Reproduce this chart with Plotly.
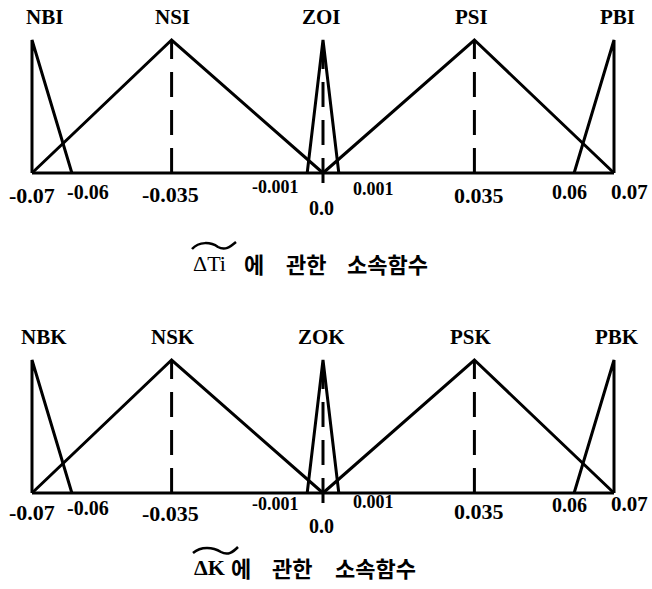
import numpy as np
import plotly.graph_objects as go

# ---------------- data ----------------
NB_X = [-0.07, -0.07, -0.06]
NS_X = [-0.07, -0.035, 0.0]
ZO_X = [-0.001, 0.0, 0.001]
PS_X = [0.0, 0.035, 0.07]
PB_X = [0.06, 0.07, 0.07]
MF_Y = [0.0, 1.0, 0.0]
UNIVERSE = [-0.07, 0.07]
SET_PEAKS = [-0.07, -0.035, 0.0, 0.035, 0.07]
DASHED_CENTERS = [-0.035, 0.0, 0.035]
TICK_VALUES = [-0.07, -0.06, -0.035, -0.001, 0.0, 0.001, 0.035, 0.06, 0.07]
TICK_LABELS = ["-0.07", "-0.06", "-0.035", "-0.001", "0.0", "0.001", "0.035", "0.06", "0.07"]
TOP_SET_NAMES = ["NBI", "NSI", "ZOI", "PSI", "PBI"]
BOTTOM_SET_NAMES = ["NBK", "NSK", "ZOK", "PSK", "PBK"]
TOP_VARIABLE = "ΔTi"
BOTTOM_VARIABLE = "ΔK"
CAPTION_WORDS = ["에", "관한", "소속함수"]

# ---------------- layout helpers ----------------
W, H = 652, 589
# schematic axis: the tiny zero band is drawn enlarged (broken-scale style)
ZERO_BAND = 0.001
ZERO_BAND_DISPLAY = 0.0038


def warp(v):
    return np.interp(v, [-0.07, -ZERO_BAND, ZERO_BAND, 0.07],
                     [-0.07, -ZERO_BAND_DISPLAY, ZERO_BAND_DISPLAY, 0.07])


_s = 0.14 / (614 - 32)
X_RANGE = [-0.07 - 32 * _s, 0.07 + (W - 614) * _s]
Y_RANGE = [-0.15, 1.1]


def py(p):
    return 1 - p / H


def px(p):
    return p / W


def ydomain(base_px, peak_px):
    unit = base_px - peak_px
    bottom_px = base_px - Y_RANGE[0] * unit
    top_px = peak_px - (Y_RANGE[1] - 1) * unit
    return [py(bottom_px), py(top_px)]


LINE = dict(color="black", width=3)
SERIF = "Liberation Serif"
CJK = "Noto Sans CJK KR"

panels = [
    dict(names=TOP_SET_NAMES, var=TOP_VARIABLE, base=173, peak=40, label_y=17,
         tick_dy=[22, 19, 21, 14, 35, 16, 22, 19, 19], caption_y=263,
         caption_x=[210, 254, 306, 387], var_bold=False,
         tilde=[(192, 249), (199, 241), (211, 242), (218, 247), (225, 251), (230, 247), (236, 242)]),
    dict(names=BOTTOM_SET_NAMES, var=BOTTOM_VARIABLE, base=493, peak=360, label_y=337,
         tick_dy=[19, 15, 20, 11, 33, 9, 18, 12, 11], caption_y=567,
         caption_x=[210, 241, 292, 375], var_bold=True,
         tilde=[(193, 553), (201, 546), (213, 547), (221, 552), (228, 556), (233, 552), (238, 547)]),
]

LABEL_XSHIFT = [12, 1, -2, -3, 3]
TICK_XSHIFT = [0, 16, -1, -32, -2, 35, 5, -5, 15]
TICK_SIZE = [22, 20, 22, 18, 20, 18, 22, 20, 21]

fig = go.Figure()
annotations = []
shapes = []

for i, p in enumerate(panels):
    xa = "x" if i == 0 else "x2"
    ya = "y" if i == 0 else "y2"
    # baseline (universe of discourse)
    fig.add_trace(go.Scatter(x=warp(UNIVERSE), y=[0, 0], mode="lines", line=LINE,
                             xaxis=xa, yaxis=ya, showlegend=False, hoverinfo="skip"))
    # membership functions
    for name, xs in zip(p["names"], [NB_X, NS_X, ZO_X, PS_X, PB_X]):
        fig.add_trace(go.Scatter(x=warp(xs), y=MF_Y, mode="lines", line=LINE, name=name,
                                 xaxis=xa, yaxis=ya, showlegend=False))
    # dashed centre lines
    for c in DASHED_CENTERS:
        y0 = -0.075 if c == 0.0 else 0.0
        fig.add_trace(go.Scatter(x=warp([c, c]), y=[y0, 1.0], mode="lines",
                                 line=dict(color="black", width=3, dash="25px,13px"),
                                 xaxis=xa, yaxis=ya, showlegend=False, hoverinfo="skip"))
    # set names
    for name, pk, xs in zip(p["names"], SET_PEAKS, LABEL_XSHIFT):
        annotations.append(dict(x=float(warp(pk)), y=py(p["label_y"]), xref=xa, yref="paper",
                                text=f"<b>{name}</b>", showarrow=False, xshift=xs,
                                xanchor="center", yanchor="middle",
                                font=dict(family=SERIF, size=21, color="black")))
    # tick labels
    for v, lab, dy, xs, sz in zip(TICK_VALUES, TICK_LABELS, p["tick_dy"], TICK_XSHIFT, TICK_SIZE):
        annotations.append(dict(x=float(warp(v)), y=py(p["base"] + dy), xref=xa, yref="paper",
                                text=f"<b>{lab}</b>", showarrow=False, xshift=xs,
                                xanchor="center", yanchor="middle",
                                font=dict(family=SERIF, size=sz, color="black")))
    # caption
    var_txt = f"<b>{p['var']}</b>" if p["var_bold"] else p["var"]
    annotations.append(dict(x=px(p["caption_x"][0]), y=py(p["caption_y"]), xref="paper", yref="paper",
                            text=var_txt, showarrow=False, xanchor="center", yanchor="middle",
                            font=dict(family=SERIF, size=22, color="black")))
    for word, cx in zip(CAPTION_WORDS, p["caption_x"][1:]):
        annotations.append(dict(x=px(cx), y=py(p["caption_y"]), xref="paper", yref="paper",
                                text=f"<b>{word}</b>", showarrow=False, xanchor="center",
                                yanchor="middle",
                                font=dict(family=CJK, size=22, color="black")))
    # tilde over the variable name
    pts = p["tilde"]
    path = "M {},{} C {},{} {},{} {},{} C {},{} {},{} {},{}".format(
        px(pts[0][0]), py(pts[0][1]), px(pts[1][0]), py(pts[1][1]), px(pts[2][0]), py(pts[2][1]),
        px(pts[3][0]), py(pts[3][1]), px(pts[4][0]), py(pts[4][1]), px(pts[5][0]), py(pts[5][1]),
        px(pts[6][0]), py(pts[6][1]))
    shapes.append(dict(type="path", path=path, xref="paper", yref="paper",
                       line=dict(color="black", width=2.5)))

top_dom = ydomain(panels[0]["base"], panels[0]["peak"])
bot_dom = ydomain(panels[1]["base"], panels[1]["peak"])

axis_off = dict(visible=False, showgrid=False, zeroline=False, fixedrange=True)
fig.update_layout(
    width=W, height=H,
    margin=dict(l=0, r=0, t=0, b=0),
    paper_bgcolor="white", plot_bgcolor="white",
    xaxis=dict(range=X_RANGE, domain=[0, 1], anchor="y", **axis_off),
    yaxis=dict(range=Y_RANGE, domain=top_dom, anchor="x", **axis_off),
    xaxis2=dict(range=X_RANGE, domain=[0, 1], anchor="y2", **axis_off),
    yaxis2=dict(range=Y_RANGE, domain=bot_dom, anchor="x2", **axis_off),
    annotations=annotations,
    shapes=shapes,
    showlegend=False,
)

# remove the default page margin so the figure fills the window exactly
fig.write_html("out.html",
               config={"displayModeBar": False, "staticPlot": True},
               post_script="document.body.style.margin='0';document.body.style.overflow='hidden';")
